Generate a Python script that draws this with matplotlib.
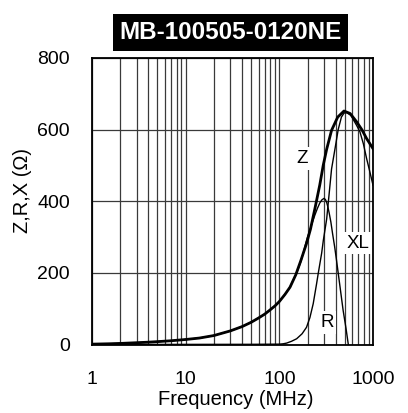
import numpy as np
import matplotlib
matplotlib.use('Agg')
from matplotlib import pyplot as plt
from matplotlib.ticker import FixedLocator, NullFormatter

plt.rcParams['font.family'] = ['Liberation Sans', 'DejaVu Sans']

#~~ data
title_txt = 'MB-100505-0120NE'

z_freq = [1, 1.5, 2, 3, 4, 5, 7, 10, 14, 20, 30, 40, 50, 60, 70, 80, 90, 100,
          115, 130, 150, 170, 195, 215, 240, 270, 294, 320, 361, 420, 490,
          570, 668, 760, 855, 1000]
z_val = [1, 2, 3, 5, 6.5, 8, 10.5, 14, 18, 25, 38, 50, 62, 74, 85, 97, 108, 120,
         140, 160, 195, 235, 282, 322, 380, 445, 500, 545, 598, 635, 652,
         645, 622, 600, 575, 547]

xl_freq = [1, 1.5, 2, 3, 4, 5, 7, 10, 14, 20, 30, 40, 50, 60, 70, 80, 90, 100,
           115, 130, 150, 160, 170, 180, 188, 200, 215, 240, 255, 270, 285, 300,
           310, 320, 330, 340, 355, 370, 390, 408, 440, 480, 515, 545, 570]
xl_val = [1, 2, 3, 5, 6.5, 8, 10.5, 14, 18, 25, 38, 50, 62, 74, 85, 97, 108, 120,
          140, 160, 195, 213, 232, 255, 275, 300, 325, 362, 380, 395, 404, 408,
          405, 397, 384, 368, 342, 310, 272, 235, 170, 95, 45, 0, -40]

r_freq = [1, 50, 100, 110, 120, 135, 153, 175, 195, 212, 230, 250, 260, 283, 295,
          320, 340, 361, 392, 425, 460, 490, 520, 580, 668, 725, 790, 855, 920, 1000]
r_val = [0, 0.5, 1, 2, 4, 9, 16, 30, 48, 75, 114, 170, 198, 255, 291,
         350, 420, 490, 545, 600, 635, 646, 648, 640, 612, 594, 560, 519, 485, 445]

y_ticks = [0, 200, 400, 600, 800]
x_ticks = [1, 10, 100, 1000]
x_ticklabels = ['1', '10', '100', '1000']

########################################################################################################################
fig = plt.figure(figsize=(4.08, 4.13), dpi=100)
ax = fig.add_axes([92/408., 1-344.5/413., (373-92)/408., (344.5-58)/413.])

ax.plot(z_freq, z_val, color='black', linewidth=2.0, zorder=3)
ax.plot(xl_freq, xl_val, color='black', linewidth=1.0, zorder=3)
ax.plot(r_freq, r_val, color='black', linewidth=1.0, zorder=3)

ax.set_xscale('log')
ax.set_xlim(1, 1000)
ax.set_ylim(0, 800)

#~ grid: every minor decade line, horizontal every 200
minors = [m * 10**d for d in range(0, 3) for m in range(2, 10)]
ax.xaxis.set_major_locator(FixedLocator(x_ticks))
ax.xaxis.set_minor_locator(FixedLocator(minors))
ax.xaxis.set_minor_formatter(NullFormatter())
ax.set_xticklabels(x_ticklabels)
ax.set_yticks(y_ticks)
ax.grid(True, which='both', axis='x', color='#3a3a3a', linewidth=0.9, zorder=1)
ax.grid(True, which='major', axis='y', color='#3a3a3a', linewidth=0.9, zorder=1)

ax.tick_params(axis='both', which='both', direction='in', length=0, labelsize=14)
ax.tick_params(axis='x', pad=19)
ax.tick_params(axis='y', pad=16)
for sp in ax.spines.values():
    sp.set_linewidth(1.3)
    sp.set_zorder(4)

ax.set_xlabel('Frequency (MHz)', fontsize=14.5, va='top')
ax.xaxis.set_label_coords(0.511, -0.159)
ax.set_ylabel('Z,R,X (\u03a9)', fontsize=14.5, va='center')
ax.yaxis.set_label_coords(-0.249, 0.539)

#~ curve labels with white boxes (they break the grid)
box = dict(facecolor='white', edgecolor='none', pad=2)
ax.text(174, 520, 'Z', fontsize=13.5, ha='center', va='center', bbox=box, zorder=2)
ax.text(690, 283, 'XL', fontsize=13.5, ha='center', va='center', bbox=box, zorder=2)
ax.text(322, 62, 'R', fontsize=13.5, ha='center', va='center', bbox=box, zorder=2)

#~ title in black box
fig.text(230.5/408., 1-32.5/413., title_txt, color='white', fontsize=17.5, fontweight='bold',
         ha='center', va='center',
         bbox=dict(facecolor='black', edgecolor='none', boxstyle='square,pad=0.28'))

plt.savefig('out.png', dpi=100)
plt.close()
